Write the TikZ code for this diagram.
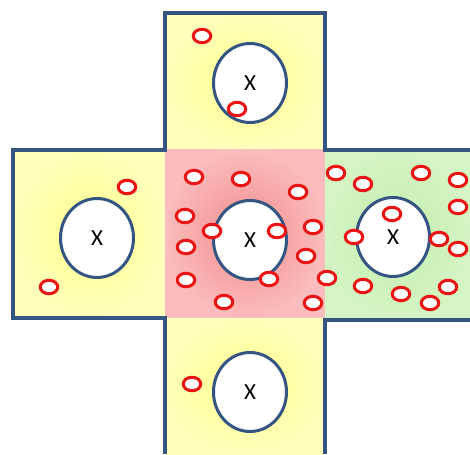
\documentclass[tikz,border=0pt]{standalone}
\usepackage{fontspec}
\setmainfont{Carlito}
\usetikzlibrary{shapes}

\definecolor{frameblue}{RGB}{52,84,130}
\definecolor{beadred}{RGB}{235,20,20}

\begin{document}
\begin{tikzpicture}[x=1pt,y=-1pt,
                    yellowcell/.style={shading=radial,inner color={rgb,255:red,255;green,255;blue,140},
                                       outer color={rgb,255:red,255;green,255;blue,188}},
                    pinkcell/.style={shading=radial,inner color={rgb,255:red,243;green,140;blue,140},
                                     outer color={rgb,255:red,250;green,188;blue,188}},
                    greencell/.style={shading=radial,inner color={rgb,255:red,196;green,238;blue,174},
                                      outer color={rgb,255:red,212;green,244;blue,196}},
                    frame/.style={draw=frameblue,line width=3.4pt,line join=miter},
                    hole/.style={ellipse,draw=frameblue,line width=3pt,fill=white,
                                 minimum width=73pt,minimum height=79pt,inner sep=0pt,
                                 font=\fontsize{23}{23}\selectfont},
                    bead/.style={ellipse,draw=beadred,line width=3pt,fill=white,
                                 minimum width=17.5pt,minimum height=13.5pt,inner sep=0pt}]

  \useasboundingbox (0,0) rectangle (470,454);

  % the five cells
  \shade[yellowcell] (165,13) rectangle (325,150);
  \shade[yellowcell] (13,150) rectangle (165,318);
  \shade[pinkcell] (165,150) rectangle (325,318);
  \shade[greencell] (325,150) rectangle (470,320);
  \shade[yellowcell] (165,318) rectangle (325,454);

  % outline of the cross
  \draw[frame] (165,454) -- (165,318) -- (13,318) -- (13,150) -- (165,150)
               -- (165,13) -- (325,13) -- (325,150) -- (470,150);
  \draw[frame] (470,320) -- (325,320) -- (325,454);

  % the holes
  \node[hole] (top) at (250,83) {X};
  \node[hole] (left) at (97,238) {X};
  \node[hole] (mid) at (250,240) {X};
  \node[hole] (right) at (393,237) {X};
  \node[hole] (bottom) at (250,392) {X};

  % beads in the middle cell
  \foreach \x/\y [count=\i] in {194/177,241/179,298/192,185/216,212/231,277/231,313/227,
                                186/247,306/256,186/280,269/279,224/302,313/303}
    \node[bead] (m\i) at (\x,\y) {};

  % beads in the right cell
  \foreach \x/\y [count=\i] in {336/173,363/184,421/173,458/180,458/207,392/214,354/237,
                                439/239,458/249,327/278,363/286,401/294,430/303,448/287}
    \node[bead] (r\i) at (\x,\y) {};

  % the outer cells
  \node[bead] (t1) at (202,36) {};
  \node[bead] (t2) at (237,109) {};
  \node[bead] (l1) at (127,187) {};
  \node[bead] (l2) at (49,287) {};
  \node[bead] (b1) at (192,384) {};

\end{tikzpicture}
\end{document}
